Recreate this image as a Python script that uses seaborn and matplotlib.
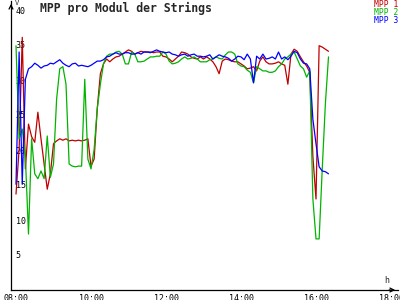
import numpy as np
import pandas as pd
import matplotlib
matplotlib.use("Agg")
import matplotlib.pyplot as plt
import seaborn as sns

# ---- data (5-minute samples from 08:00 to 16:20) ----
times = pd.date_range("2000-01-01 08:00", "2000-01-01 16:20", freq="5min")

mpp1 = [13.7, 20.1, 36.1, 17.3, 23.7, 21.9, 21.1, 25.4, 21.6, 18.0,
        14.4, 16.6, 20.9, 21.3, 21.6, 21.4, 21.6, 21.3, 21.4, 21.3,
        21.4, 21.3, 21.4, 21.6, 17.7, 18.7, 25.9, 30.9, 32.3, 33.0,
        32.6, 33.0, 33.3, 33.4, 33.7, 34.0, 34.3, 34.1, 33.7, 33.9,
        34.1, 34.0, 34.0, 34.0, 33.9, 34.0, 34.0, 33.4, 33.3, 33.0,
        32.6, 33.0, 33.4, 34.0, 33.9, 33.7, 33.3, 33.1, 33.0, 33.3,
        33.0, 33.3, 33.0, 32.6, 31.9, 30.9, 32.7, 33.0, 32.9, 32.7,
        32.6, 32.6, 32.3, 32.0, 31.6, 31.7, 31.9, 31.3, 32.7, 33.3,
        32.6, 32.3, 32.3, 32.4, 32.6, 32.3, 32.1, 29.4, 33.7, 34.4,
        34.1, 33.3, 32.6, 32.0, 31.1, 19.1, 13.0, 34.9, 34.7, 34.4, 34.1]

mpp2 = [34.9, 21.6, 23.0, 19.0, 8.0, 21.6, 16.6, 15.9, 17.0, 15.9,
        22.0, 16.1, 18.0, 27.3, 31.6, 31.9, 29.4, 18.0, 17.7, 17.6,
        17.7, 17.7, 30.1, 18.7, 17.3, 20.1, 25.9, 29.4, 32.3, 33.4,
        33.7, 33.7, 34.0, 34.1, 33.7, 32.3, 32.3, 34.0, 33.7, 32.6,
        32.6, 32.7, 33.0, 33.3, 33.3, 33.4, 33.4, 34.0, 33.7, 32.7,
        32.3, 32.4, 32.6, 33.0, 33.3, 33.0, 33.1, 33.3, 33.0, 32.6,
        32.6, 32.6, 32.9, 33.0, 33.3, 33.1, 33.0, 33.6, 34.0, 34.0,
        33.7, 32.3, 32.0, 31.9, 31.4, 31.1, 29.6, 31.9, 31.6, 31.3,
        31.3, 31.1, 31.1, 31.3, 31.9, 32.3, 33.0, 33.3, 33.7, 34.0,
        33.0, 32.0, 31.6, 30.4, 31.3, 13.0, 7.3, 7.3, 17.3, 26.6, 33.3]

mpp3 = [15.1, 34.0, 15.1, 30.1, 31.6, 31.9, 32.4, 32.1, 31.7, 32.0,
        32.1, 32.4, 32.3, 32.6, 32.9, 32.4, 32.1, 31.9, 32.3, 32.4,
        32.0, 32.1, 32.0, 31.9, 32.1, 32.4, 32.7, 32.7, 32.9, 33.3,
        33.4, 33.7, 33.9, 33.7, 33.7, 33.9, 33.9, 33.7, 33.7, 33.9,
        33.7, 34.0, 34.0, 33.9, 34.1, 34.3, 34.1, 34.0, 33.9, 34.0,
        33.7, 33.6, 33.4, 33.6, 33.7, 33.4, 33.6, 33.7, 33.4, 33.4,
        33.3, 33.4, 33.6, 33.0, 33.3, 33.6, 33.4, 33.3, 33.1, 32.7,
        33.0, 33.4, 33.3, 32.9, 33.7, 33.0, 29.6, 33.4, 33.0, 33.7,
        33.0, 33.1, 33.3, 33.0, 34.0, 33.0, 33.3, 32.9, 33.4, 34.1,
        33.9, 33.0, 32.4, 32.3, 31.6, 24.4, 20.9, 17.6, 17.0, 16.9, 16.6]

series_names = ["MPP 1", "MPP 2", "MPP 3"]
colors = ["#c00000", "#00b400", "#0000ff"]
x_ticks = [8, 10, 12, 14, 16, 18]
x_tick_labels = ["08:00", "10:00", "12:00", "14:00", "16:00", "18:00"]
y_ticks = [5, 10, 15, 20, 25, 30, 35, 40]

hours = times.hour + times.minute / 60.0
df = pd.concat([
    pd.DataFrame({"t": hours, "v": vals, "series": name})
    for name, vals in zip(series_names, [mpp1, mpp2, mpp3])
], ignore_index=True)

# ---- figure ----
sns.set_style("white")
plt.rcParams["font.family"] = ["DejaVu Sans Mono", "DejaVu Sans"]

fig = plt.figure(figsize=(4, 3), dpi=100)
ax = fig.add_axes([11 / 400, 10 / 300, 387 / 400, 289 / 300])

sns.lineplot(data=df, x="t", y="v", hue="series", palette=colors,
             estimator=None, sort=False, lw=0.9, ax=ax, legend=True)

ax.set_xlim(8 - 5 / 37.5, 8 + 382 / 37.5)
ax.set_ylim(0, 289 / 7)

for s in ["top", "right"]:
    ax.spines[s].set_visible(False)
for s in ["left", "bottom"]:
    ax.spines[s].set_color("black")
    ax.spines[s].set_linewidth(0.9)

ax.set_xticks(x_ticks)
ax.set_xticklabels(x_tick_labels)
ax.set_yticks(y_ticks)
ax.set_yticklabels([str(v) for v in y_ticks])
ax.tick_params(axis="x", direction="inout", length=5, width=0.9, pad=0.5,
               labelsize=6, colors="black")
ax.tick_params(axis="y", direction="inout", length=5, width=0.9, pad=-6,
               labelsize=6, colors="black")
for lab in ax.get_yticklabels():
    lab.set_horizontalalignment("left")

ax.set_xlabel("h", fontsize=6)
ax.xaxis.set_label_coords(376 / 387, 14 / 289)
ax.set_ylabel("V", fontsize=5, rotation=0)
ax.yaxis.label.set_verticalalignment("top")
ax.yaxis.label.set_horizontalalignment("left")
ax.yaxis.set_label_coords(4 / 387, 1.0 + 1 / 289)

# axis arrows
ax.annotate("", xy=(1.0, 0), xytext=(0.97, 0), xycoords="axes fraction",
            arrowprops=dict(arrowstyle="->", lw=0.9, color="black",
                            mutation_scale=7))
ax.annotate("", xy=(0, 1.0), xytext=(0, 0.97), xycoords="axes fraction",
            arrowprops=dict(arrowstyle="->", lw=0.9, color="black",
                            mutation_scale=7))

fig.text(40 / 400, 1 - 2 / 300, "MPP pro Modul der Strings",
         fontsize=8.3, fontweight="bold", ha="left", va="top")

ax.legend(loc="upper right", bbox_to_anchor=(1.0, 1.0 + 1 / 289),
          frameon=False, handlelength=0, handletextpad=0, fontsize=5.8,
          labelspacing=-0.15, borderpad=0, borderaxespad=0,
          labelcolor="linecolor")
for h in ax.get_legend().legend_handles:
    h.set_visible(False)

fig.savefig("out.png", dpi=100)
